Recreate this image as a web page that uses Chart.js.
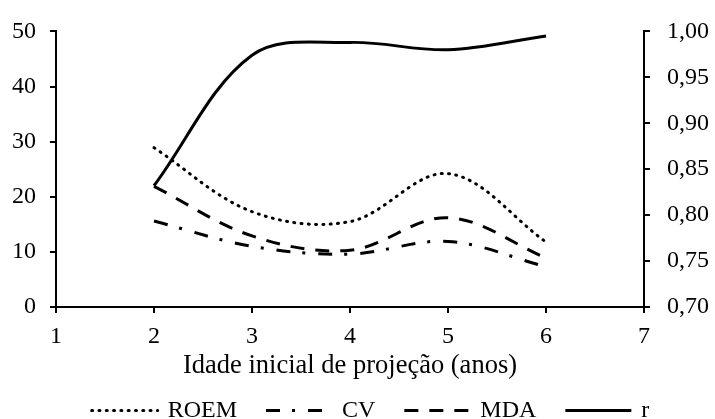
<!DOCTYPE html>
<html>
<head>
<meta charset="utf-8">
<script src="https://cdn.jsdelivr.net/npm/chart.js@4"></script>
<style>
html,body{margin:0;padding:0;background:#ffffff;}
#wrap{width:715px;height:419px;position:relative;}
#probe{position:absolute;left:-9999px;top:0;font-family:"Liberation Serif";font-size:24px;}
</style>
</head>
<body>
<div id="wrap"><canvas id="c" width="715" height="419"></canvas></div>
<span id="probe">Idade 0123456789 ROEM</span>
<script>
// ---- data ----
const ages = [2, 3, 4, 5, 6];
const roem = [28.9, 17.3, 15.5, 24.2, 11.8];
const cv   = [15.6, 11.0, 9.6, 11.9, 7.3];
const mda  = [21.9, 12.9, 10.3, 16.2, 8.9];
const rCorr = [0.832, 0.974, 0.988, 0.980, 0.995];
const seriesNames = ['ROEM', 'CV', 'MDA', 'r'];
const xTitle = 'Idade inicial de projeção (anos)';
const xRange = [1, 7];
const leftRange = [0, 50];
const rightRange = [0.70, 1.00];

const FONT = '"Liberation Serif", "Times New Roman", serif';
const FS = 24;
const DASHES = {
  ROEM: [1, 6.3],
  CV: [14, 12, 3, 13],
  MDA: [14, 11],
  r: []
};
const CAPS = { ROEM: 'round', CV: 'butt', MDA: 'butt', r: 'butt' };

function pts(vals) { return ages.map((a, i) => ({ x: a, y: vals[i] })); }

function ds(name, vals, axis) {
  return {
    label: name,
    data: pts(vals),
    yAxisID: axis,
    borderColor: '#000',
    backgroundColor: '#000',
    borderWidth: 3,
    borderDash: DASHES[name],
    borderCapStyle: CAPS[name],
    pointRadius: 0,
    pointHoverRadius: 0,
    tension: 0.35,
    fill: false
  };
}

const legendPlugin = {
  id: 'customLegend',
  afterDraw(chart) {
    const ctx = chart.ctx;
    const W = 66, gap = 10, pad = 29;
    ctx.save();
    ctx.font = FS + 'px ' + FONT;
    const items = chart.data.datasets.map(d => ({
      name: d.label, dash: d.borderDash, cap: d.borderCapStyle,
      tw: ctx.measureText(d.label).width
    }));
    let total = 0;
    items.forEach((it, i) => { total += W + gap + it.tw + (i < items.length - 1 ? pad : 0); });
    let x = chart.width / 2 + 13 - total / 2;
    const lineY = chart.height - 8.5;
    const textY = chart.height - 2.5;
    items.forEach(it => {
      ctx.beginPath();
      ctx.setLineDash(it.dash);
      ctx.lineCap = it.cap;
      ctx.lineWidth = 3;
      ctx.strokeStyle = '#000';
      ctx.moveTo(x, lineY);
      ctx.lineTo(x + W, lineY);
      ctx.stroke();
      ctx.setLineDash([]);
      ctx.fillStyle = '#000';
      ctx.textAlign = 'left';
      ctx.textBaseline = 'alphabetic';
      ctx.fillText(it.name, x + W + gap, textY);
      x += W + gap + it.tw + pad;
    });
    ctx.restore();
  }
};

const axisCommon = {
  grid: { display: true, drawOnChartArea: false, drawTicks: true, tickLength: 6, color: '#000', lineWidth: 2 },
  border: { display: true, color: '#000', width: 2 }
};

function build() {
  return new Chart(document.getElementById('c'), {
    type: 'line',
    data: {
      datasets: [
        ds(seriesNames[0], roem, 'y'),
        ds(seriesNames[1], cv, 'y'),
        ds(seriesNames[2], mda, 'y'),
        ds(seriesNames[3], rCorr, 'y1')
      ]
    },
    options: {
      responsive: false,
      animation: false,
      devicePixelRatio: 1,
      layout: { padding: { top: 28, right: 0, bottom: 33, left: 0 } },
      plugins: { legend: { display: false }, tooltip: { enabled: false } },
      scales: {
        x: {
          type: 'linear',
          min: xRange[0], max: xRange[1],
          ...axisCommon,
          ticks: { stepSize: 1, color: '#000', font: { family: FONT, size: FS }, padding: 9, maxRotation: 0 },
          title: { display: true, text: xTitle, color: '#000', font: { family: FONT, size: 26.5 }, padding: { top: 4, bottom: 4 } },
          afterFit(s) { s.height = 79; }
        },
        y: {
          type: 'linear', position: 'left',
          min: leftRange[0], max: leftRange[1],
          ...axisCommon,
          ticks: { stepSize: 10, color: '#000', font: { family: FONT, size: FS }, padding: 14 },
          afterFit(s) { s.width = 56; }
        },
        y1: {
          type: 'linear', position: 'right',
          min: rightRange[0], max: rightRange[1],
          ...axisCommon,
          ticks: { stepSize: 0.05, color: '#000', font: { family: FONT, size: FS }, padding: 17,
                   callback: v => v.toFixed(2).replace('.', ',') },
          afterFit(s) { s.width = 71; }
        }
      }
    },
    plugins: [legendPlugin]
  });
}

let chart = null;
function start() { if (!chart) chart = build(); }
if (document.fonts && document.fonts.load) {
  document.fonts.load(FS + 'px "Liberation Serif"').then(start, start);
  setTimeout(start, 1500);
} else {
  start();
}
</script>
</body>
</html>
